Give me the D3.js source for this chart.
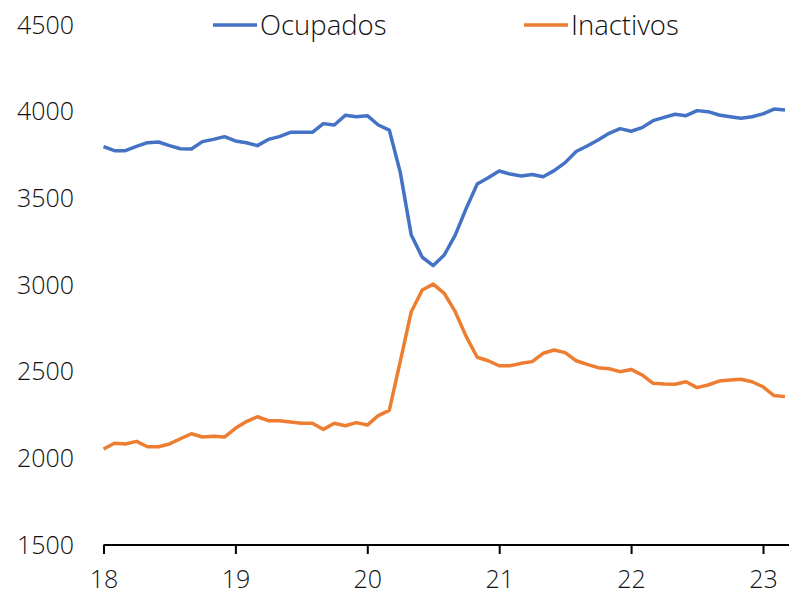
<!DOCTYPE html>
<html>
<head>
<meta charset="utf-8">
<script src="https://cdn.jsdelivr.net/npm/d3@7"></script>
<style>
  html, body { margin: 0; padding: 0; background: #fff; }
  svg text { font-family: "Open Sans", "Noto Sans", sans-serif; font-weight: 300; fill: #111; }
</style>
</head>
<body>
<svg id="chart" width="789" height="596"></svg>
<script>
// Monthly series, January 2018 to March 2023 (thousands)
const ocupados = [
  3798, 3775, 3775, 3800, 3821, 3825, 3804, 3786, 3785, 3827, 3840, 3856,
  3831, 3821, 3804, 3840, 3856, 3881, 3881, 3881, 3931, 3923, 3979, 3971,
  3977, 3923, 3894, 3650, 3288, 3160, 3112, 3173, 3288, 3442, 3583, 3619,
  3658, 3640, 3629, 3638, 3625, 3660, 3706, 3770, 3802, 3837, 3875, 3902,
  3887, 3908, 3948, 3967, 3985, 3977, 4006, 4000, 3981, 3971, 3962, 3971,
  3987, 4015, 4010
];
const inactivos = [
  2054, 2087, 2083, 2098, 2067, 2067, 2083, 2113, 2142, 2123, 2127, 2123,
  2173, 2212, 2240, 2217, 2217, 2210, 2202, 2202, 2167, 2202, 2188, 2206,
  2192, 2246, 2277, 2560, 2846, 2971, 3005, 2952, 2846, 2702, 2583, 2563,
  2534, 2534, 2548, 2558, 2606, 2625, 2610, 2563, 2542, 2523, 2517, 2500,
  2513, 2481, 2433, 2429, 2427, 2442, 2408, 2423, 2446, 2452, 2456, 2442,
  2413, 2362, 2356
];
const seriesNames = ["Ocupados", "Inactivos"];
const seriesColors = ["#4472C4", "#ED7D31"];
const yTicks = [1500, 2000, 2500, 3000, 3500, 4000, 4500];
const xTicks = [18, 19, 20, 21, 22, 23];

const svg = d3.select("#chart");

// x measured in years since 2000; month index i sits at 18 + i/12
const x = d3.scaleLinear().domain([18, 23]).range([103.5, 763]);
const y = d3.scaleLinear().domain([1500, 4500]).range([545, 25]);
const xEnd = 789;

// Y labels (no axis line)
svg.append("g")
  .selectAll("text")
  .data(yTicks)
  .join("text")
  .attr("x", 74)
  .attr("y", d => y(d))
  .attr("dy", "0.35em")
  .attr("text-anchor", "end")
  .style("font-size", "25px")
  .text(d => d);

// X axis with ticks pointing down
const xAxis = d3.axisBottom(x)
  .tickValues(xTicks)
  .tickFormat(d => d)
  .tickSize(9)
  .tickPadding(16)
  .tickSizeOuter(0);
const gx = svg.append("g")
  .attr("transform", `translate(0,${y(1500)})`)
  .call(xAxis);
gx.select(".domain").remove();
gx.append("line")
  .attr("x1", x(18)).attr("x2", xEnd)
  .attr("y1", 0).attr("y2", 0)
  .attr("stroke", "#000").attr("stroke-width", 2);
gx.selectAll(".tick line").attr("stroke", "#000").attr("stroke-width", 2);
gx.selectAll(".tick text")
  .style("font-size", "25px")
  .style("font-family", "\"Open Sans\", sans-serif")
  .style("font-weight", 300)
  .attr("fill", "#111");

// Lines
const line = d3.line()
  .x((d, i) => x(18 + i / 12))
  .y(d => y(d));

[ocupados, inactivos].forEach((vals, k) => {
  svg.append("path")
    .datum(vals)
    .attr("fill", "none")
    .attr("stroke", seriesColors[k])
    .attr("stroke-width", 3.5)
    .attr("stroke-linejoin", "round")
    .attr("d", line);
});

// Legend
const legendX = [213, 524];
const legend = svg.append("g");
seriesNames.forEach((name, k) => {
  legend.append("line")
    .attr("x1", legendX[k]).attr("x2", legendX[k] + 44)
    .attr("y1", 25).attr("y2", 25)
    .attr("stroke", seriesColors[k])
    .attr("stroke-width", 3.5);
  legend.append("text")
    .attr("x", legendX[k] + 47)
    .attr("y", 25)
    .attr("dy", "0.35em")
    .style("font-size", "27.5px")
    .text(name);
});
</script>
</body>
</html>
